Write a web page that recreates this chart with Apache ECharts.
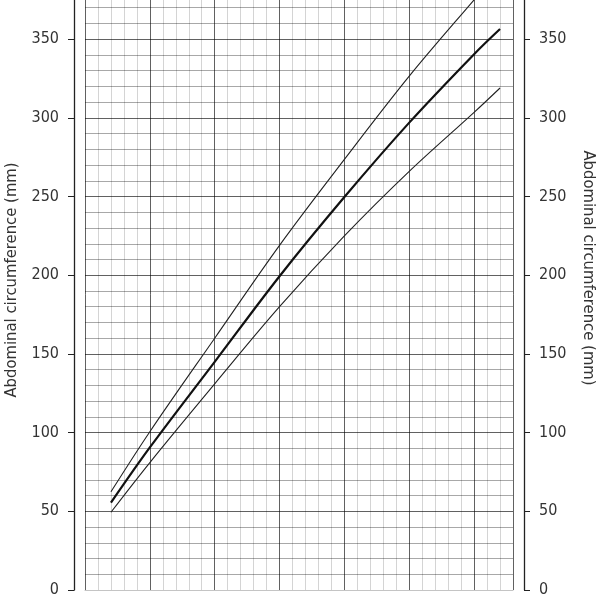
<!DOCTYPE html>
<html>
<head>
<meta charset="utf-8">
<title>Abdominal circumference</title>
<script src="https://cdn.jsdelivr.net/npm/echarts@6/dist/echarts.min.js"></script>
<style>
  html, body { margin: 0; padding: 0; background: #fff; }
  #chart { width: 600px; height: 600px; }
</style>
</head>
<body>
<div id="chart"></div>
<script>
var weeks = [12, 15, 20, 25, 30, 35, 40, 42]
// abdominal circumference (mm)
var acUpper = [62.4, 100.6, 160, 219, 273.6, 326.5, 375, 394]
var acMean = [55.5, 90.6, 145, 199.4, 249.7, 297, 340.5, 356.5]
var acLower = [49.4, 81, 131, 180, 225, 266, 303.5, 319]
var yTickLabels = [0, 50, 100, 150, 200, 250, 300, 350]

var textColor = '#333'
var fontFamily = 'DejaVu Sans Condensed'

function pairs (ys) {
  return weeks.map(function (w, i) { return [w, ys[i]] })
}

function yLabel (v) {
  return yTickLabels.indexOf(v) >= 0 ? String(v) : ''
}

function yAxisFor (side) {
  var left = side === 'left'
  return {
    type: 'value',
    position: side,
    offset: 11,
    min: 0,
    max: 380,
    interval: 50,
    name: 'Abdominal circumference (mm)',
    nameLocation: 'middle',
    nameGap: left ? 48 : 56,
    nameRotate: left ? 90 : -90,
    nameTextStyle: {
      color: textColor,
      fontFamily: fontFamily,
      fontSize: 16.5,
      // pull the titles a bit upwards, as in the original
      padding: left ? [0, 0, 0, 22] : [0, 46, 0, 0]
    },
    axisLine: { show: true, lineStyle: { color: '#222', width: 1.3 } },
    axisTick: { show: true, length: 6, lineStyle: { color: '#222' } },
    axisLabel: {
      margin: 15,
      color: textColor,
      fontFamily: fontFamily,
      fontSize: 16,
      formatter: yLabel
    },
    minorTick: { show: false, splitNumber: 5 },
    splitLine: { show: left, lineStyle: { color: 'rgba(0,0,0,0.62)', width: 1 } },
    minorSplitLine: { show: left, lineStyle: { color: 'rgba(0,0,0,0.34)', width: 1 } }
  }
}

var chart = echarts.init(document.getElementById('chart'))
chart.setOption({
  animation: false,
  backgroundColor: '#fff',
  grid: { left: 85, right: 87, top: -8, bottom: 10, containLabel: false, outerBoundsMode: 'none' },
  xAxis: {
    type: 'value',
    min: 10,
    max: 43,
    interval: 5,
    offset: 9,
    axisLine: { show: true, lineStyle: { color: '#c4c4c4' } },
    axisTick: { show: false },
    axisLabel: { show: false },
    minorTick: { show: false, splitNumber: 5 },
    splitLine: { show: true, lineStyle: { color: 'rgba(0,0,0,0.62)', width: 1 } },
    minorSplitLine: { show: true, lineStyle: { color: 'rgba(0,0,0,0.17)', width: 1 } }
  },
  yAxis: [yAxisFor('left'), yAxisFor('right')],
  series: [
    {
      name: 'upper',
      type: 'line',
      smooth: 0.35,
      showSymbol: false,
      lineStyle: { color: '#222', width: 1.1 },
      data: pairs(acUpper)
    },
    {
      name: 'mean',
      type: 'line',
      smooth: 0.35,
      showSymbol: false,
      lineStyle: { color: '#111', width: 2.2 },
      data: pairs(acMean)
    },
    {
      name: 'lower',
      type: 'line',
      smooth: 0.35,
      showSymbol: false,
      lineStyle: { color: '#222', width: 1.1 },
      data: pairs(acLower)
    }
  ]
})
</script>
</body>
</html>
